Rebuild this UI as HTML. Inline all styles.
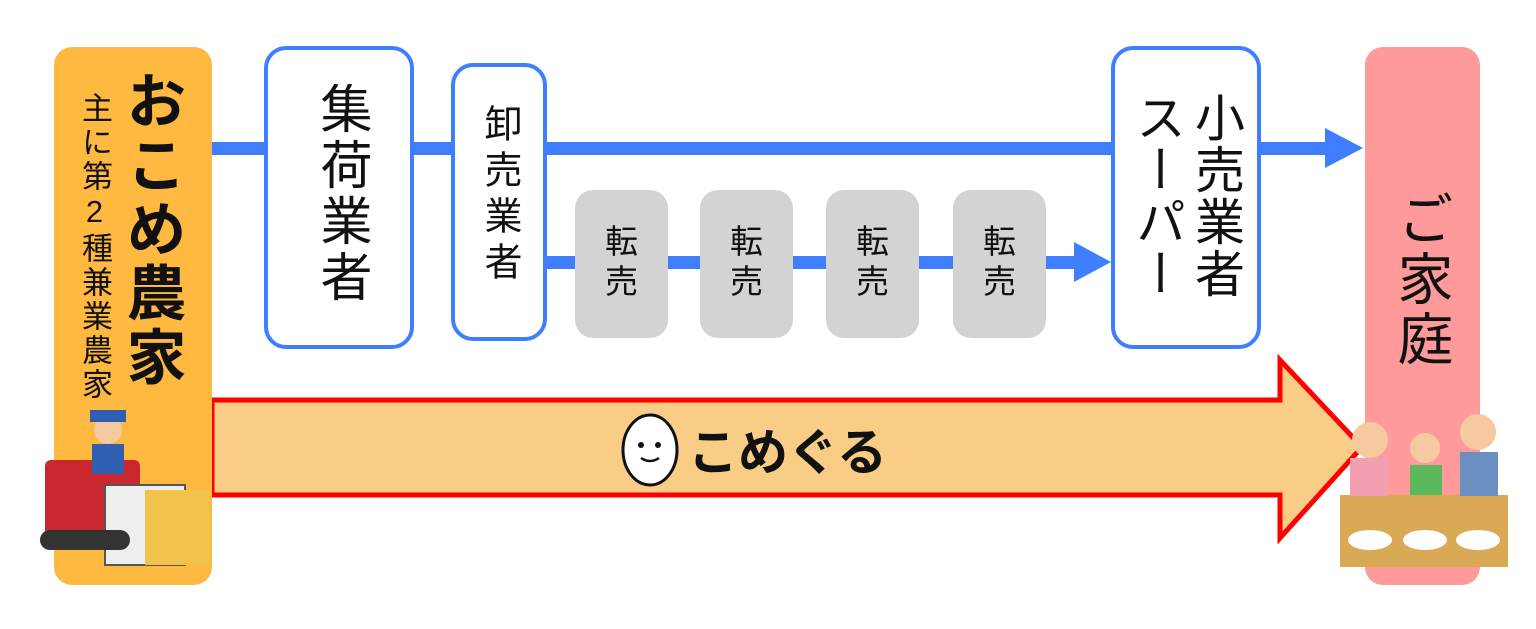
<!DOCTYPE html>
<html><head><meta charset="utf-8"><style>
body{margin:0;width:1536px;height:629px;background:#fff;position:relative;overflow:hidden;font-family:"Liberation Sans","Noto Sans CJK JP",sans-serif;color:#111}
.a{position:absolute}
.v{position:absolute;writing-mode:vertical-rl;text-orientation:upright;white-space:nowrap}
.bb{position:absolute;border:4px solid #3f7fff;border-radius:22px;background:#fff;box-sizing:border-box}
.g{position:absolute;background:#d3d3d3;border-radius:18px;width:93px;height:148px;top:190px}
.g span{position:absolute;left:0;right:0;text-align:center;font-size:33px;line-height:40px;top:32px}
</style></head><body>
<svg class="a" style="left:0;top:0" width="1536" height="629">
<rect x="212" y="142" width="1120" height="13" fill="#3f7fff"/>
<polygon points="1325,128 1363,148 1325,168" fill="#3f7fff"/>
<rect x="546" y="256" width="535" height="13" fill="#3f7fff"/>
<polygon points="1074,242 1111,262 1074,282" fill="#3f7fff"/>
<polygon points="212,400 1280,400 1280,360 1362,447 1280,538 1280,495 212,495" fill="#f9cd85" stroke="#ff0000" stroke-width="5"/>
</svg>
<div class="a" style="left:54px;top:47px;width:158px;height:538px;background:#ffb840;border-radius:18px"></div>
<div class="a" style="left:1365px;top:47px;width:115px;height:538px;background:#ff9a9a;border-radius:18px"></div>
<div class="v" style="left:118px;top:70px;font-size:60px;line-height:66px;letter-spacing:4px;font-weight:bold">おこめ農家</div>
<div class="v" style="left:76px;top:92px;font-size:31px;line-height:36px;letter-spacing:3px">主に第2種兼業農家</div>
<div class="bb" style="left:264px;top:46px;width:150px;height:303px"></div>
<div class="v" style="left:312px;top:82px;font-size:52px;line-height:58px;letter-spacing:4px">集荷業者</div>
<div class="bb" style="left:451px;top:63px;width:96px;height:278px"></div>
<div class="v" style="left:478px;top:104px;font-size:38px;line-height:42px;letter-spacing:8px">卸売業者</div>
<div class="g" style="left:575px"><span>転<br>売</span></div>
<div class="g" style="left:700px"><span>転<br>売</span></div>
<div class="g" style="left:826px"><span>転<br>売</span></div>
<div class="g" style="left:953px"><span>転<br>売</span></div>
<div class="bb" style="left:1111px;top:46px;width:150px;height:303px"></div>
<div class="v" style="left:1187px;top:92px;font-size:50px;line-height:58px;letter-spacing:2px">小売業者</div>
<div class="v" style="left:1128px;top:92px;font-size:50px;line-height:58px;letter-spacing:2px">スーパー</div>
<div class="v" style="left:1390px;top:190px;font-size:56px;line-height:62px;letter-spacing:4px">ご家庭</div>
<svg class="a" style="left:0;top:0" width="1536" height="629">
<ellipse cx="650" cy="450" rx="27" ry="35" fill="#fff" stroke="#111" stroke-width="3"/>
<circle cx="641" cy="445" r="3" fill="#111"/><circle cx="658" cy="445" r="3" fill="#111"/>
<path d="M641 458 Q650 464 659 458" stroke="#111" stroke-width="2.5" fill="none"/>
<text x="688" y="470" font-size="50" font-weight="bold" font-family="Noto Sans CJK JP,sans-serif" fill="#111">こめぐる</text>
<rect x="45" y="460" width="95" height="80" fill="#c8282e" rx="6"/>
<rect x="105" y="485" width="80" height="80" fill="#eee" stroke="#555" stroke-width="2"/>
<rect x="145" y="490" width="65" height="75" fill="#f2c34a"/>
<rect x="40" y="530" width="90" height="20" fill="#333" rx="10"/>
<circle cx="108" cy="430" r="14" fill="#f6c9a0"/><rect x="90" y="410" width="36" height="12" fill="#2f5fb0"/>
<rect x="92" y="444" width="32" height="30" fill="#2f5fb0"/>
<rect x="1340" y="495" width="168" height="72" fill="#d9a955"/>
<circle cx="1370" cy="440" r="18" fill="#f6c9a0"/><circle cx="1425" cy="448" r="15" fill="#f6c9a0"/><circle cx="1478" cy="432" r="18" fill="#f6c9a0"/>
<rect x="1350" y="458" width="38" height="38" fill="#f2a0b0"/><rect x="1410" y="465" width="32" height="30" fill="#5cb85c"/><rect x="1460" y="452" width="38" height="44" fill="#6a8fc0"/>
<ellipse cx="1370" cy="540" rx="22" ry="10" fill="#fff"/><ellipse cx="1425" cy="540" rx="22" ry="10" fill="#fff"/><ellipse cx="1478" cy="540" rx="22" ry="10" fill="#fff"/>
</svg>
</body></html>
